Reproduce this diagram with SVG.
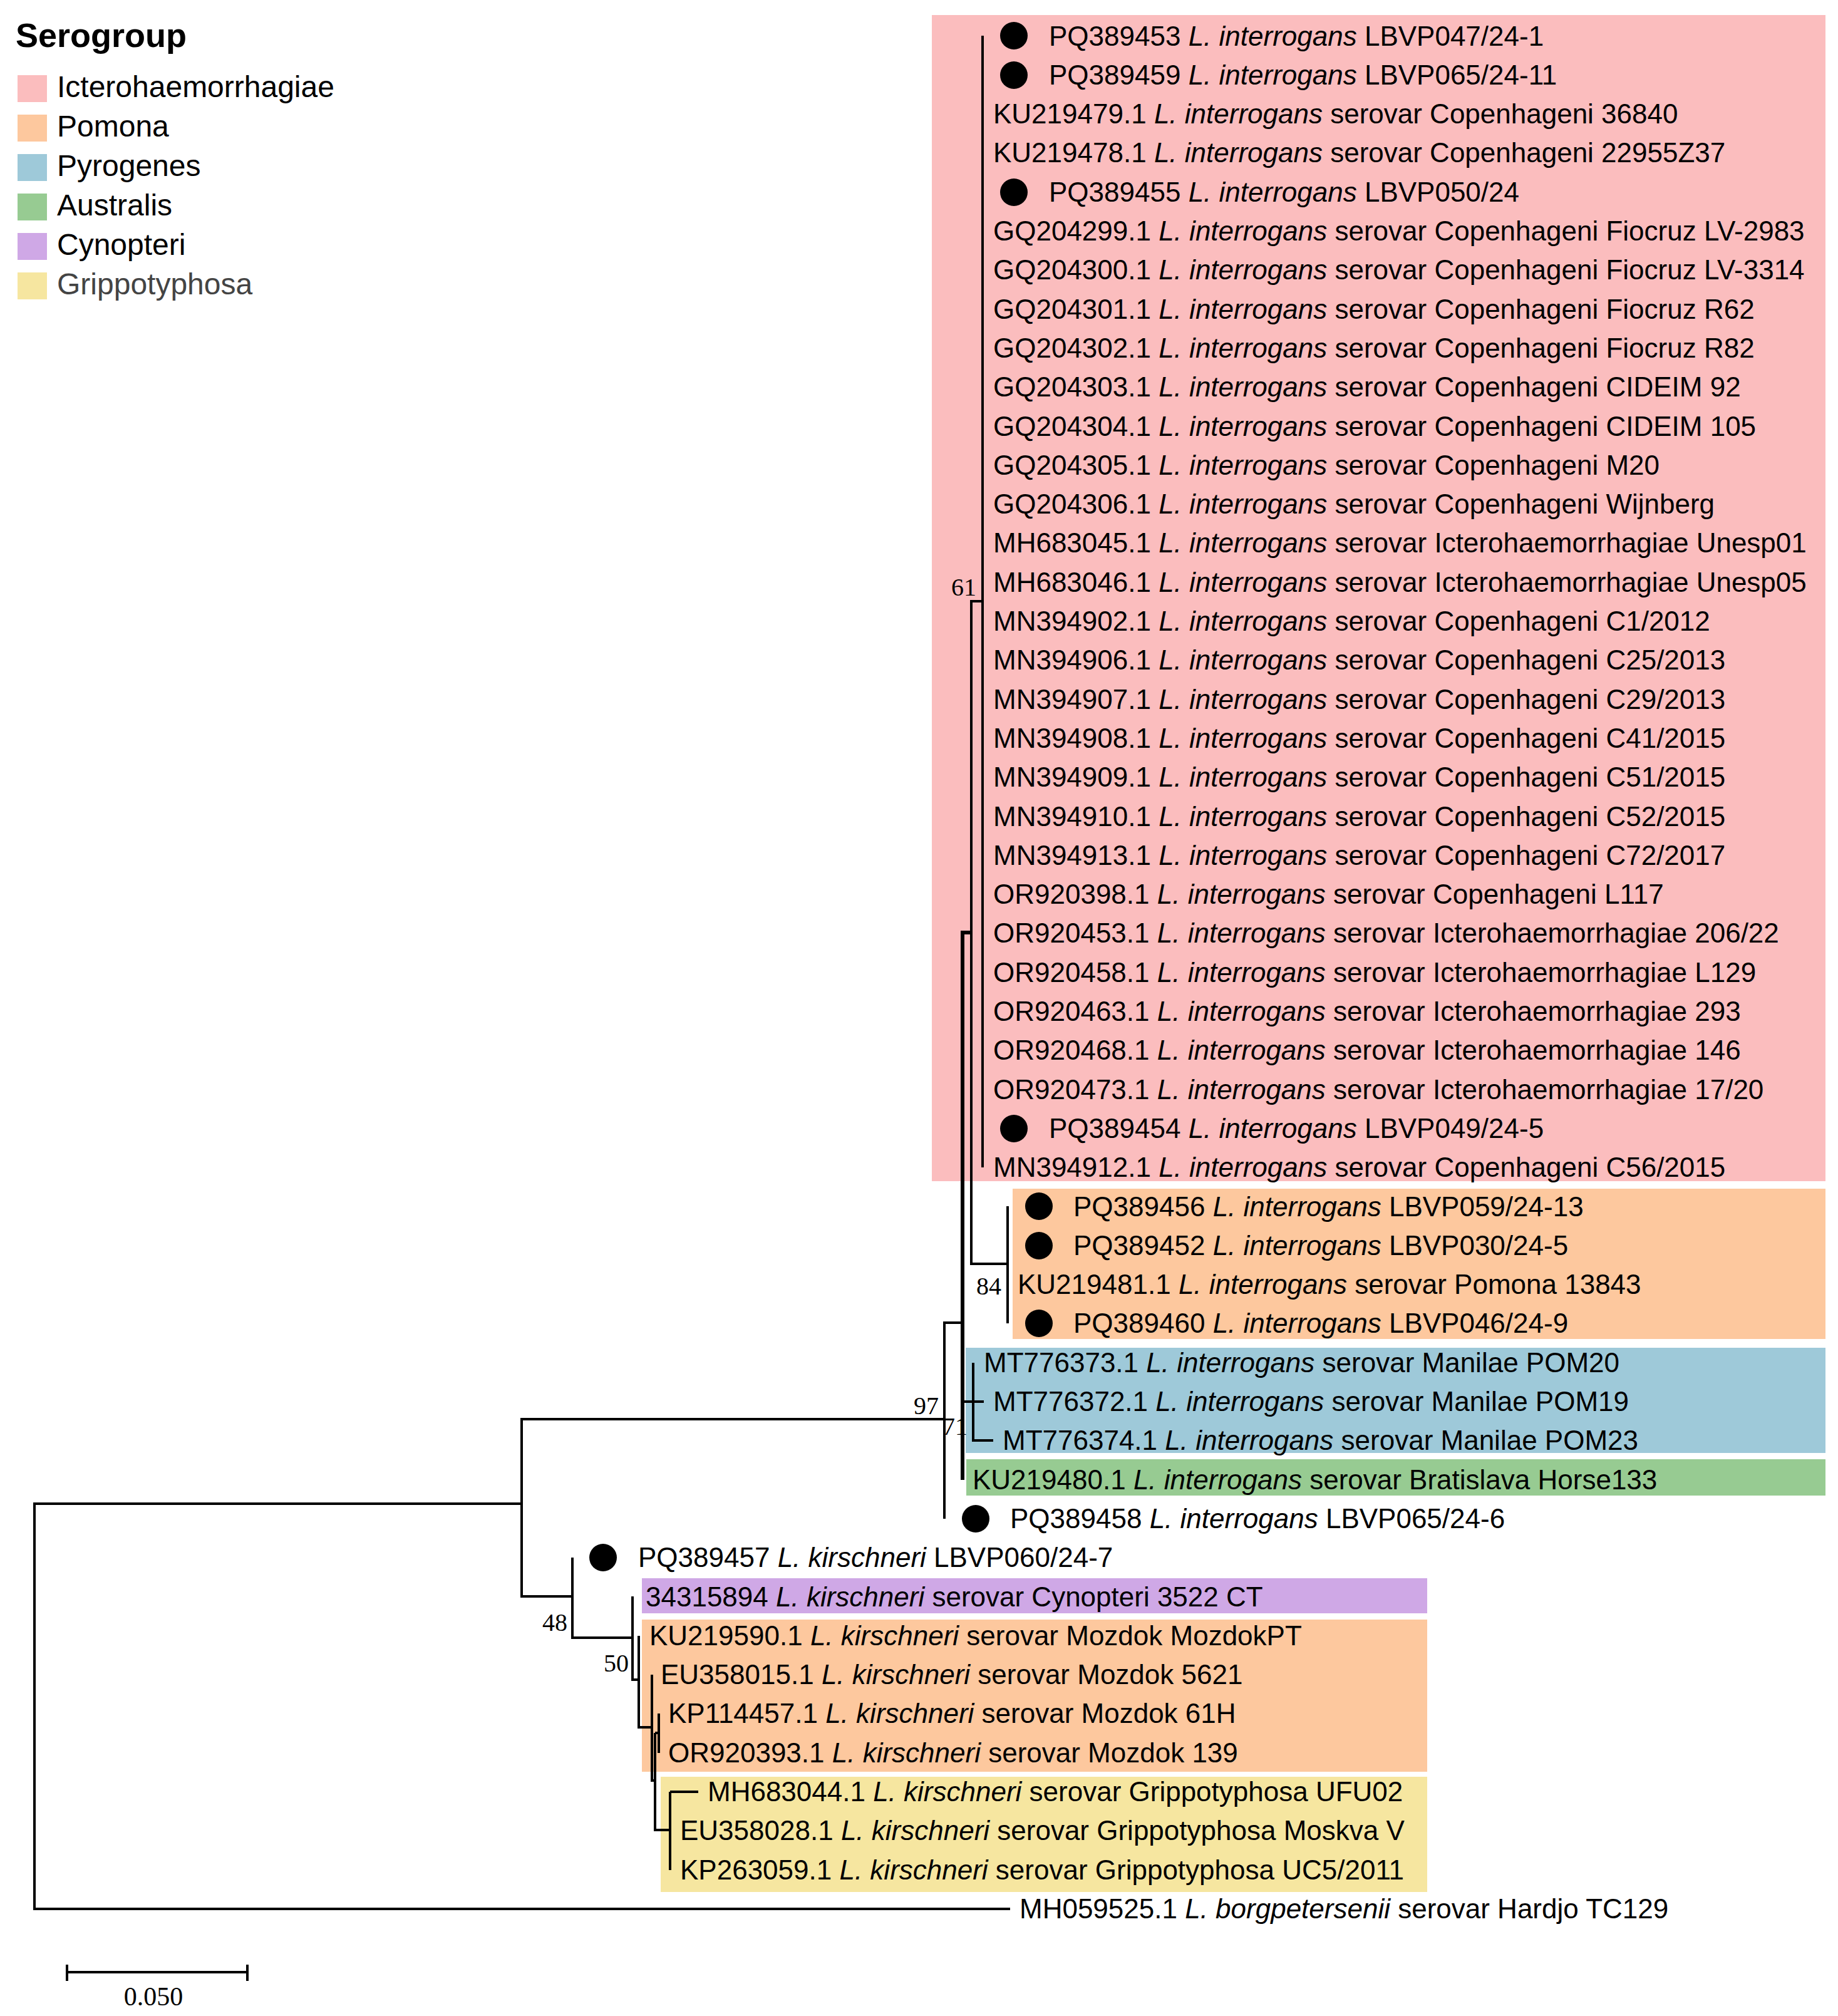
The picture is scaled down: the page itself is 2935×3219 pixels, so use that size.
<svg xmlns="http://www.w3.org/2000/svg" width="2935" height="3219" viewBox="0 0 2935 3219">
<style>
.lbl{font-family:"Liberation Sans",Arial,sans-serif;font-size:44px;fill:#000}
.it{font-style:italic}
.bs{font-family:"Liberation Serif","Times New Roman",serif;font-size:40px;fill:#000}
.br{fill:none;stroke:#000;stroke-width:4;stroke-linejoin:miter}
.dot{fill:#000}
.leg{font-family:"Liberation Sans",Arial,sans-serif;font-size:48px;fill:#000}
.c-ict{fill:#FBBDBE}.c-pom{fill:#FDC89E}.c-pyr{fill:#9EC9D9}.c-aus{fill:#97CB92}.c-cyn{fill:#CFA8E6}.c-gri{fill:#F6E6A0}
</style>
<rect x="0" y="0" width="2935" height="3219" fill="#fff"/>
<g id="legend">
<text x="25" y="75" font-family="Liberation Sans,Arial,sans-serif" font-size="54" font-weight="bold">Serogroup</text>
<rect class="c-ict" x="28" y="120" width="47" height="43"/><text class="leg" x="91" y="155">Icterohaemorrhagiae</text>
<rect class="c-pom" x="28" y="183" width="47" height="43"/><text class="leg" x="91" y="218">Pomona</text>
<rect class="c-pyr" x="28" y="246" width="47" height="43"/><text class="leg" x="91" y="281">Pyrogenes</text>
<rect class="c-aus" x="28" y="309" width="47" height="43"/><text class="leg" x="91" y="344">Australis</text>
<rect class="c-cyn" x="28" y="372" width="47" height="43"/><text class="leg" x="91" y="407">Cynopteri</text>
<rect class="c-gri" x="28" y="435" width="47" height="43"/><text class="leg" x="91" y="470" style="fill:#444">Grippotyphosa</text>
</g>
<g id="serogroup-boxes">
<rect class="c-ict" x="1488" y="24" width="1427" height="1862"/>
<rect class="c-pom" x="1617" y="1898" width="1298" height="240"/>
<rect class="c-pyr" x="1542" y="2152" width="1373" height="168"/>
<rect class="c-aus" x="1543" y="2330" width="1372" height="58"/>
<rect class="c-cyn" x="1025" y="2520" width="1254" height="56"/>
<rect class="c-pom" x="1025" y="2586" width="1254" height="243"/>
<rect class="c-gri" x="1055" y="2837" width="1224" height="184"/>
</g>
<g id="connectors">
<path class="br" d="M833,2401 H55 V3048 H1613"/>
<path class="br" d="M1508,2266 H833 V2549 H914"/>
<path class="br" d="M1537,2112 H1508 V2425"/>
<path class="br" style="stroke-width:6" d="M1551,1489 H1537 V2363"/>
<path class="br" d="M1537,2238 H1571 M1554,2176 V2300 H1586"/>
<path class="br" d="M1569,960 H1551 V2018 H1609"/>
<path class="br" d="M1569,57 V1864"/>
<path class="br" d="M1609,1926 V2113"/>
<path class="br" d="M914,2487 V2615 H1010"/>
<path class="br" d="M1010,2549 V2682 H1020"/>
<path class="br" d="M1020,2612 V2758 H1041"/>
<path class="br" d="M1041,2674 V2843 H1046"/>
<path class="br" d="M1046,2767 V2922 H1070 M1046,2767 H1052"/>
<path class="br" d="M1052,2736 V2799"/>
<path class="br" d="M1070,2861 V2986 M1070,2861 H1115"/>
</g>
<g id="bootstrap">
<text class="bs" x="1559" y="951" text-anchor="end">61</text>
<text class="bs" x="1599" y="2067" text-anchor="end">84</text>
<text class="bs" x="1499" y="2258" text-anchor="end">97</text>
<text class="bs" x="1505" y="2291">71</text>
<text class="bs" x="906" y="2604" text-anchor="end">48</text>
<text class="bs" x="1004" y="2669" text-anchor="end">50</text>
</g>
<g id="tips">
<g id="tip-PQ389453"><circle class="dot" cx="1619" cy="57" r="22"/><text class="lbl" x="1675" y="73">PQ389453 <tspan class="it">L. interrogans</tspan> LBVP047/24-1</text></g>
<g id="tip-PQ389459"><circle class="dot" cx="1619" cy="120" r="22"/><text class="lbl" x="1675" y="135">PQ389459 <tspan class="it">L. interrogans</tspan> LBVP065/24-11</text></g>
<g id="tip-KU219479"><text class="lbl" x="1586" y="197">KU219479.1 <tspan class="it">L. interrogans</tspan> serovar Copenhageni 36840</text></g>
<g id="tip-KU219478"><text class="lbl" x="1586" y="259">KU219478.1 <tspan class="it">L. interrogans</tspan> serovar Copenhageni 22955Z37</text></g>
<g id="tip-PQ389455"><circle class="dot" cx="1619" cy="307" r="22"/><text class="lbl" x="1675" y="322">PQ389455 <tspan class="it">L. interrogans</tspan> LBVP050/24</text></g>
<g id="tip-GQ204299"><text class="lbl" x="1586" y="384">GQ204299.1 <tspan class="it">L. interrogans</tspan> serovar Copenhageni Fiocruz LV-2983</text></g>
<g id="tip-GQ204300"><text class="lbl" x="1586" y="446">GQ204300.1 <tspan class="it">L. interrogans</tspan> serovar Copenhageni Fiocruz LV-3314</text></g>
<g id="tip-GQ204301"><text class="lbl" x="1586" y="509">GQ204301.1 <tspan class="it">L. interrogans</tspan> serovar Copenhageni Fiocruz R62</text></g>
<g id="tip-GQ204302"><text class="lbl" x="1586" y="571">GQ204302.1 <tspan class="it">L. interrogans</tspan> serovar Copenhageni Fiocruz R82</text></g>
<g id="tip-GQ204303"><text class="lbl" x="1586" y="633">GQ204303.1 <tspan class="it">L. interrogans</tspan> serovar Copenhageni CIDEIM 92</text></g>
<g id="tip-GQ204304"><text class="lbl" x="1586" y="696">GQ204304.1 <tspan class="it">L. interrogans</tspan> serovar Copenhageni CIDEIM 105</text></g>
<g id="tip-GQ204305"><text class="lbl" x="1586" y="758">GQ204305.1 <tspan class="it">L. interrogans</tspan> serovar Copenhageni M20</text></g>
<g id="tip-GQ204306"><text class="lbl" x="1586" y="820">GQ204306.1 <tspan class="it">L. interrogans</tspan> serovar Copenhageni Wijnberg</text></g>
<g id="tip-MH683045"><text class="lbl" x="1586" y="882">MH683045.1 <tspan class="it">L. interrogans</tspan> serovar Icterohaemorrhagiae Unesp01</text></g>
<g id="tip-MH683046"><text class="lbl" x="1586" y="945">MH683046.1 <tspan class="it">L. interrogans</tspan> serovar Icterohaemorrhagiae Unesp05</text></g>
<g id="tip-MN394902"><text class="lbl" x="1586" y="1007">MN394902.1 <tspan class="it">L. interrogans</tspan> serovar Copenhageni C1/2012</text></g>
<g id="tip-MN394906"><text class="lbl" x="1586" y="1069">MN394906.1 <tspan class="it">L. interrogans</tspan> serovar Copenhageni C25/2013</text></g>
<g id="tip-MN394907"><text class="lbl" x="1586" y="1132">MN394907.1 <tspan class="it">L. interrogans</tspan> serovar Copenhageni C29/2013</text></g>
<g id="tip-MN394908"><text class="lbl" x="1586" y="1194">MN394908.1 <tspan class="it">L. interrogans</tspan> serovar Copenhageni C41/2015</text></g>
<g id="tip-MN394909"><text class="lbl" x="1586" y="1256">MN394909.1 <tspan class="it">L. interrogans</tspan> serovar Copenhageni C51/2015</text></g>
<g id="tip-MN394910"><text class="lbl" x="1586" y="1319">MN394910.1 <tspan class="it">L. interrogans</tspan> serovar Copenhageni C52/2015</text></g>
<g id="tip-MN394913"><text class="lbl" x="1586" y="1381">MN394913.1 <tspan class="it">L. interrogans</tspan> serovar Copenhageni C72/2017</text></g>
<g id="tip-OR920398"><text class="lbl" x="1586" y="1443">OR920398.1 <tspan class="it">L. interrogans</tspan> serovar Copenhageni L117</text></g>
<g id="tip-OR920453"><text class="lbl" x="1586" y="1505">OR920453.1 <tspan class="it">L. interrogans</tspan> serovar Icterohaemorrhagiae 206/22</text></g>
<g id="tip-OR920458"><text class="lbl" x="1586" y="1568">OR920458.1 <tspan class="it">L. interrogans</tspan> serovar Icterohaemorrhagiae L129</text></g>
<g id="tip-OR920463"><text class="lbl" x="1586" y="1630">OR920463.1 <tspan class="it">L. interrogans</tspan> serovar Icterohaemorrhagiae 293</text></g>
<g id="tip-OR920468"><text class="lbl" x="1586" y="1692">OR920468.1 <tspan class="it">L. interrogans</tspan> serovar Icterohaemorrhagiae 146</text></g>
<g id="tip-OR920473"><text class="lbl" x="1586" y="1755">OR920473.1 <tspan class="it">L. interrogans</tspan> serovar Icterohaemorrhagiae 17/20</text></g>
<g id="tip-PQ389454"><circle class="dot" cx="1619" cy="1802" r="22"/><text class="lbl" x="1675" y="1817">PQ389454 <tspan class="it">L. interrogans</tspan> LBVP049/24-5</text></g>
<g id="tip-MN394912"><text class="lbl" x="1586" y="1879">MN394912.1 <tspan class="it">L. interrogans</tspan> serovar Copenhageni C56/2015</text></g>
<g id="tip-PQ389456"><circle class="dot" cx="1659" cy="1926" r="22"/><text class="lbl" x="1714" y="1942">PQ389456 <tspan class="it">L. interrogans</tspan> LBVP059/24-13</text></g>
<g id="tip-PQ389452"><circle class="dot" cx="1659" cy="1989" r="22"/><text class="lbl" x="1714" y="2004">PQ389452 <tspan class="it">L. interrogans</tspan> LBVP030/24-5</text></g>
<g id="tip-KU219481"><text class="lbl" x="1625" y="2066">KU219481.1 <tspan class="it">L. interrogans</tspan> serovar Pomona 13843</text></g>
<g id="tip-PQ389460"><circle class="dot" cx="1659" cy="2113" r="22"/><text class="lbl" x="1714" y="2128">PQ389460 <tspan class="it">L. interrogans</tspan> LBVP046/24-9</text></g>
<g id="tip-MT776373"><text class="lbl" x="1571" y="2191">MT776373.1 <tspan class="it">L. interrogans</tspan> serovar Manilae POM20</text></g>
<g id="tip-MT776372"><text class="lbl" x="1586" y="2253">MT776372.1 <tspan class="it">L. interrogans</tspan> serovar Manilae POM19</text></g>
<g id="tip-MT776374"><text class="lbl" x="1601" y="2315">MT776374.1 <tspan class="it">L. interrogans</tspan> serovar Manilae POM23</text></g>
<g id="tip-KU219480"><text class="lbl" x="1553" y="2378">KU219480.1 <tspan class="it">L. interrogans</tspan> serovar Bratislava Horse133</text></g>
<g id="tip-PQ389458"><circle class="dot" cx="1558" cy="2425" r="22"/><text class="lbl" x="1613" y="2440">PQ389458 <tspan class="it">L. interrogans</tspan> LBVP065/24-6</text></g>
<g id="tip-PQ389457"><circle class="dot" cx="963" cy="2487" r="22"/><text class="lbl" x="1019" y="2502">PQ389457 <tspan class="it">L. kirschneri</tspan> LBVP060/24-7</text></g>
<g id="tip-34315894"><text class="lbl" x="1031" y="2565">34315894 <tspan class="it">L. kirschneri</tspan> serovar Cynopteri 3522 CT</text></g>
<g id="tip-KU219590"><text class="lbl" x="1037" y="2627">KU219590.1 <tspan class="it">L. kirschneri</tspan> serovar Mozdok MozdokPT</text></g>
<g id="tip-EU358015"><text class="lbl" x="1055" y="2689">EU358015.1 <tspan class="it">L. kirschneri</tspan> serovar Mozdok 5621</text></g>
<g id="tip-KP114457"><text class="lbl" x="1067" y="2751">KP114457.1 <tspan class="it">L. kirschneri</tspan> serovar Mozdok 61H</text></g>
<g id="tip-OR920393"><text class="lbl" x="1067" y="2814">OR920393.1 <tspan class="it">L. kirschneri</tspan> serovar Mozdok 139</text></g>
<g id="tip-MH683044"><text class="lbl" x="1130" y="2876">MH683044.1 <tspan class="it">L. kirschneri</tspan> serovar Grippotyphosa UFU02</text></g>
<g id="tip-EU358028"><text class="lbl" x="1086" y="2938">EU358028.1 <tspan class="it">L. kirschneri</tspan> serovar Grippotyphosa Moskva V</text></g>
<g id="tip-KP263059"><text class="lbl" x="1086" y="3001">KP263059.1 <tspan class="it">L. kirschneri</tspan> serovar Grippotyphosa UC5/2011</text></g>
<g id="tip-MH059525"><text class="lbl" x="1628" y="3063">MH059525.1 <tspan class="it">L. borgpetersenii</tspan> serovar Hardjo TC129</text></g>
</g>
<g id="scale-bar">
<path class="br" d="M107,3149 H395 M107,3137 V3163 M395,3137 V3163"/>
<text x="245" y="3202" text-anchor="middle" font-family="Liberation Serif,Times New Roman,serif" font-size="42">0.050</text>
</g>
</svg>
